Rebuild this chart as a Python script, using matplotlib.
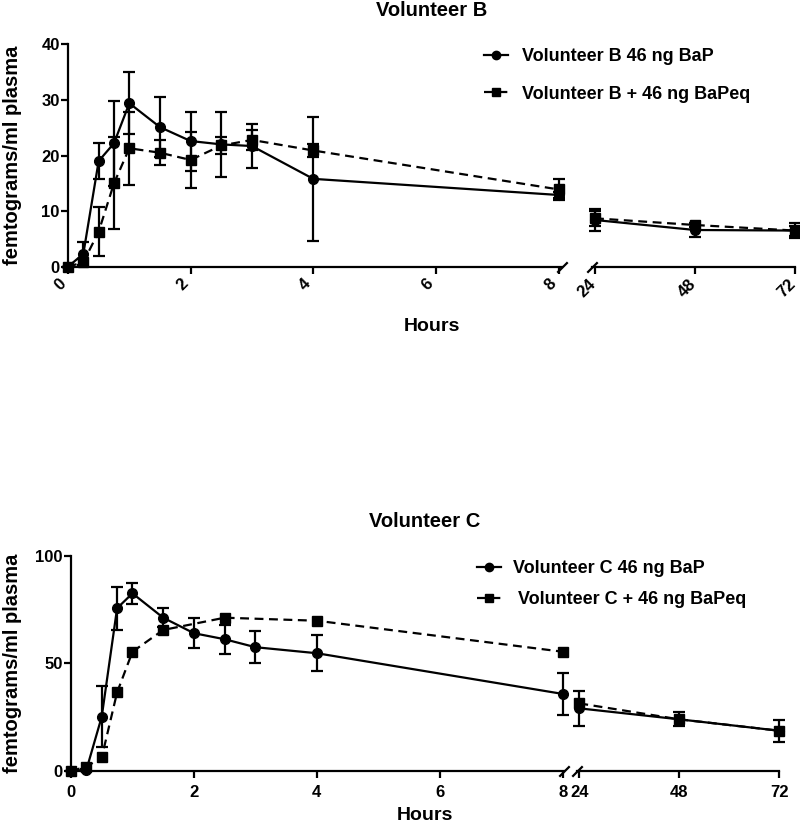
import numpy as np
import matplotlib
matplotlib.use("Agg")
import matplotlib.pyplot as plt
import matplotlib.transforms as mtransforms
from matplotlib.lines import Line2D

plt.rcParams['font.family'] = ['Liberation Sans', 'DejaVu Sans']
plt.rcParams['font.weight'] = 'bold'

# ---------------- data ----------------
hours_full = np.array([0, 0.25, 0.5, 0.75, 1, 1.5, 2, 2.5, 3, 4, 8, 24, 48, 72])

b_bap = np.array([0, 2.3, 19.0, 22.2, 29.4, 25.1, 22.6, 22.0, 21.7, 15.8, 12.9, 8.4, 6.6, 6.5])
b_bap_err = np.array([0, 2.2, 3.3, 7.6, 5.6, 5.4, 5.3, 5.9, 3.9, 11.2, 0.6, 1.9, 1.2, 1.4])
b_eq = np.array([0, 0.8, 6.3, 15.0, 21.3, 20.5, 19.2, 21.8, 22.8, 20.9, 13.9, 8.7, 7.5, 6.5])
b_eq_err = np.array([0, 0.5, 4.4, 8.3, 6.6, 2.2, 5.1, 1.5, 1.8, 1.2, 1.9, 1.3, 0.4, 0.9])

c_bap = np.array([0, 0.5, 25.2, 75.6, 82.5, 71.2, 64.0, 61.2, 57.5, 54.7, 35.8, 29.1, 24.0, 18.7])
c_bap_err = np.array([0, 0.5, 14.1, 10.0, 4.8, 4.4, 7.0, 6.8, 7.5, 8.4, 9.9, 8.2, 3.2, 5.0])
hours_c_eq = np.array([0, 0.25, 0.5, 0.75, 1, 1.5, 2.5, 4, 8, 24, 48, 72])
c_eq = np.array([0, 2.0, 6.3, 36.5, 55.4, 65.5, 71.2, 69.8, 55.4, 31.4, 24.0, 18.7])

left_ticks = [0, 2, 4, 6, 8]
right_ticks = [24, 48, 72]
b_yticks = [0, 10, 20, 30, 40]
c_yticks = [0, 50, 100]

titles = ["Volunteer B", "Volunteer C"]
labels_b = ["Volunteer B 46 ng BaP", "Volunteer B + 46 ng BaPeq"]
labels_c = ["Volunteer C 46 ng BaP", " Volunteer C + 46 ng BaPeq"]
xlabel = "Hours"
ylabel = "femtograms/ml plasma"

# ---------------- figure ----------------
W, H = 800, 825
fig = plt.figure(figsize=(W / 100, H / 100), dpi=100)


def add_ax(l, r, b, t):
    return fig.add_axes([l / W, 1 - b / H, (r - l) / W, (b - t) / H])


LW = 1.6
DASH = (0, (4, 2.5))
shift_left = mtransforms.ScaledTranslation(-8 / 100, 0, fig.dpi_scale_trans)


def style(ax, show_y, rotate):
    for s in ['top', 'right']:
        ax.spines[s].set_visible(False)
    ax.spines['left'].set_visible(show_y)
    for s in ['left', 'bottom']:
        ax.spines[s].set_linewidth(LW)
    ax.tick_params(axis='both', width=LW, length=5, labelsize=12, direction='out')
    ax.tick_params(axis='y', pad=1)
    if not show_y:
        ax.tick_params(axis='y', left=False, labelleft=False)
    if rotate:
        ax.tick_params(axis='x', pad=2)
        for lab in ax.get_xticklabels():
            lab.set_rotation(45)
            lab.set_ha('center')
            lab.set_va('top')
            lab.set_transform(lab.get_transform() + shift_left)
    else:
        ax.tick_params(axis='x', pad=5)
    for lab in ax.get_xticklabels() + ax.get_yticklabels():
        lab.set_fontweight('bold')
    ax.patch.set_visible(False)


def eb(ax, x, y, e, marker, ls, z):
    cont = ax.errorbar(x, y, yerr=e, fmt=marker, linestyle=ls, color='k', ms=7,
                       lw=LW, capsize=4, capthick=LW, elinewidth=LW, zorder=z)
    for art in cont.get_children():
        art.set_clip_on(False)


def line(ax, x, y, marker, ls, z):
    ax.plot(x, y, marker=marker, linestyle=ls, color='k', ms=7, lw=LW,
            zorder=z, clip_on=False)


def brk(ax, xpos):
    ax.plot([xpos], [0], transform=ax.transAxes, marker=[(-1, -1), (1, 1)],
            ms=7.5, mew=LW, color='k', clip_on=False, zorder=5)


# ---- Volunteer B ----
axBL = add_ax(68, 561.6, 266.7, 44.3)
axBR = add_ax(592, 795, 266.7, 44.3)
mL = hours_full <= 8
mR = hours_full >= 24
for ax, m in ((axBL, mL), (axBR, mR)):
    eb(ax, hours_full[m], b_bap[m], b_bap_err[m], 'o', '-', 3)
    eb(ax, hours_full[m], b_eq[m], b_eq_err[m], 's', DASH, 4)
    ax.set_ylim(0, 40)
axBL.set_xlim(0, 8.05)
axBR.set_xlim(23.28, 72)
axBL.set_xticks(left_ticks)
axBR.set_xticks(right_ticks)
axBL.set_yticks(b_yticks)
style(axBL, True, True)
style(axBR, False, True)
brk(axBL, 1.0)
brk(axBR, 0.0)

# ---- Volunteer C ----
axCL = add_ax(71, 563.9, 771, 555.7)
axCR = add_ax(576.5, 779.3, 771, 555.7)
mLc = hours_c_eq <= 8
mRc = hours_c_eq >= 24
for ax, m, mc in ((axCL, mL, mLc), (axCR, mR, mRc)):
    eb(ax, hours_full[m], c_bap[m], c_bap_err[m], 'o', '-', 3)
    line(ax, hours_c_eq[mc], c_eq[mc], 's', DASH, 4)
    ax.set_ylim(0, 100)
axCL.set_xlim(0, 8.02)
axCR.set_xlim(23.33, 72)
axCL.set_xticks(left_ticks)
axCR.set_xticks(right_ticks)
axCL.set_yticks(c_yticks)
style(axCL, True, False)
style(axCR, False, False)
brk(axCL, 1.0)
brk(axCR, 0.0)

# ---- texts ----
fig.text(431.5 / W, 1 - 15.7 / H, titles[0], ha='center', va='baseline', fontsize=14.5, fontweight='bold')
fig.text(425 / W, 1 - 526.7 / H, titles[1], ha='center', va='baseline', fontsize=14.5, fontweight='bold')
fig.text(431.5 / W, 1 - 331 / H, xlabel, ha='center', va='baseline', fontsize=14, fontweight='bold')
fig.text(425 / W, 1 - 820 / H, xlabel, ha='center', va='baseline', fontsize=14, fontweight='bold')
fig.text(12.5 / W, 1 - 155.5 / H, ylabel, ha='center', va='center', rotation=90, fontsize=14.5, fontweight='bold')
fig.text(12.5 / W, 1 - 663.3 / H, ylabel, ha='center', va='center', rotation=90, fontsize=14.5, fontweight='bold')

# ---- legends ----
h_solid = Line2D([], [], color='k', marker='o', ms=6, lw=LW)
h_dash = Line2D([], [], color='k', marker='s', ms=6, lw=LW, linestyle=DASH)
fig.legend([h_solid, h_dash], labels_b, loc='upper left', bbox_to_anchor=(475 / W, 1 - 39 / H),
           frameon=False, borderpad=0, handlelength=1.3, handletextpad=0.8, labelspacing=1.15,
           prop={'size': 13, 'weight': 'bold'})
fig.legend([h_solid, h_dash], labels_c, loc='upper left', bbox_to_anchor=(468 / W, 1 - 551 / H),
           frameon=False, borderpad=0, handlelength=1.3, handletextpad=0.7, labelspacing=0.8,
           prop={'size': 13, 'weight': 'bold'})

fig.savefig("out.png", dpi=100)
